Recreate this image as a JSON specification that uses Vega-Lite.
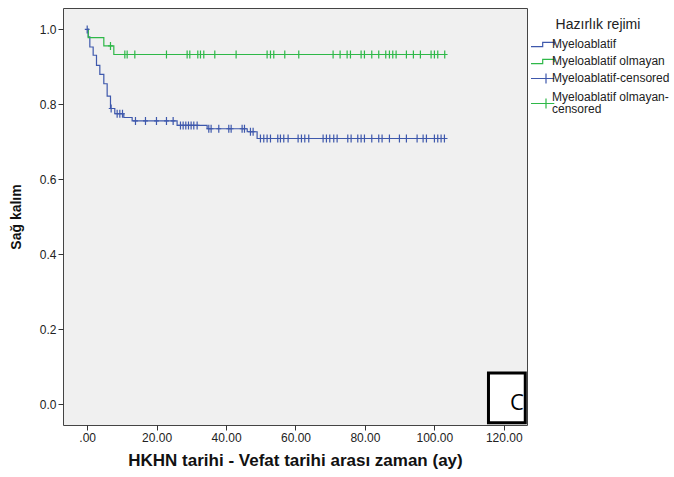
{
  "$schema": "https://vega.github.io/schema/vega-lite/v6.json",
  "width": 464,
  "height": 417,
  "autosize": {"type": "none"},
  "padding": {"left": 63, "top": 8, "right": 147, "bottom": 52},
  "background": "white",
  "config": {
    "view": {"stroke": "#444", "strokeWidth": 1, "fill": "#f0f0f0"},
    "font": "Liberation Sans",
    "style": {"guide-label": {"lineHeight": 12}},
    "axis": {"grid": false, "domain": false, "tickColor": "#333", "tickSize": 5, "labelFont": "Liberation Sans", "labelFontSize": 12, "labelColor": "#222", "labelPadding": 2, "titleFont": "Liberation Sans", "titleFontWeight": "bold", "titleColor": "#111"},
    "legend": {
      "orient": "none", "legendX": 464, "legendY": 10,
      "titleFont": "Liberation Sans", "titleFontSize": 14, "titleFontWeight": "normal", "titleColor": "#222", "titleAnchor": "middle", "titlePadding": 1,
      "labelFont": "Liberation Sans", "labelFontSize": 12, "labelColor": "#222", "labelOffset": 13, "labelLimit": 200, "labelBaseline": "top",
      "symbolSize": 16, "symbolStrokeWidth": 1.2, "rowPadding": -7.8
    }
  },
  "datasets": {
    "steps": [
      {"grup": "Myeloablatif", "t": 0, "s": 1.0},
      {"grup": "Myeloablatif", "t": 0.3, "s": 0.98},
      {"grup": "Myeloablatif", "t": 0.76, "s": 0.953},
      {"grup": "Myeloablatif", "t": 1.72, "s": 0.931},
      {"grup": "Myeloablatif", "t": 2.68, "s": 0.904},
      {"grup": "Myeloablatif", "t": 3.64, "s": 0.88},
      {"grup": "Myeloablatif", "t": 4.79, "s": 0.855},
      {"grup": "Myeloablatif", "t": 5.75, "s": 0.822},
      {"grup": "Myeloablatif", "t": 6.71, "s": 0.789},
      {"grup": "Myeloablatif", "t": 7.95, "s": 0.775},
      {"grup": "Myeloablatif", "t": 10.55, "s": 0.765},
      {"grup": "Myeloablatif", "t": 12.95, "s": 0.756},
      {"grup": "Myeloablatif", "t": 25.9, "s": 0.744},
      {"grup": "Myeloablatif", "t": 34.55, "s": 0.735},
      {"grup": "Myeloablatif", "t": 46.1, "s": 0.727},
      {"grup": "Myeloablatif", "t": 48.95, "s": 0.709},
      {"grup": "Myeloablatif", "t": 103.8, "s": 0.709},
      {"grup": "Myeloablatif olmayan", "t": 0, "s": 1.0},
      {"grup": "Myeloablatif olmayan", "t": 0.3, "s": 0.978},
      {"grup": "Myeloablatif olmayan", "t": 4.79, "s": 0.956},
      {"grup": "Myeloablatif olmayan", "t": 7.67, "s": 0.933},
      {"grup": "Myeloablatif olmayan", "t": 103.8, "s": 0.933}
    ],
    "censored": [
      {"grup": "Myeloablatif-censored", "t": 0, "s": 1.0},
      {"grup": "Myeloablatif-censored", "t": 6.9, "s": 0.789},
      {"grup": "Myeloablatif-censored", "t": 8.63, "s": 0.775},
      {"grup": "Myeloablatif-censored", "t": 9.4, "s": 0.775},
      {"grup": "Myeloablatif-censored", "t": 10.17, "s": 0.775},
      {"grup": "Myeloablatif-censored", "t": 13.91, "s": 0.756},
      {"grup": "Myeloablatif-censored", "t": 16.79, "s": 0.756},
      {"grup": "Myeloablatif-censored", "t": 19.96, "s": 0.756},
      {"grup": "Myeloablatif-censored", "t": 22.84, "s": 0.756},
      {"grup": "Myeloablatif-censored", "t": 24.76, "s": 0.756},
      {"grup": "Myeloablatif-censored", "t": 26.87, "s": 0.744},
      {"grup": "Myeloablatif-censored", "t": 27.64, "s": 0.744},
      {"grup": "Myeloablatif-censored", "t": 28.41, "s": 0.744},
      {"grup": "Myeloablatif-censored", "t": 29.18, "s": 0.744},
      {"grup": "Myeloablatif-censored", "t": 29.94, "s": 0.744},
      {"grup": "Myeloablatif-censored", "t": 30.71, "s": 0.744},
      {"grup": "Myeloablatif-censored", "t": 31.67, "s": 0.744},
      {"grup": "Myeloablatif-censored", "t": 35.03, "s": 0.735},
      {"grup": "Myeloablatif-censored", "t": 35.7, "s": 0.735},
      {"grup": "Myeloablatif-censored", "t": 37.91, "s": 0.735},
      {"grup": "Myeloablatif-censored", "t": 40.79, "s": 0.735},
      {"grup": "Myeloablatif-censored", "t": 41.47, "s": 0.735},
      {"grup": "Myeloablatif-censored", "t": 44.63, "s": 0.735},
      {"grup": "Myeloablatif-censored", "t": 45.31, "s": 0.735},
      {"grup": "Myeloablatif-censored", "t": 47.03, "s": 0.727},
      {"grup": "Myeloablatif-censored", "t": 47.8, "s": 0.727},
      {"grup": "Myeloablatif-censored", "t": 49.91, "s": 0.709},
      {"grup": "Myeloablatif-censored", "t": 50.87, "s": 0.709},
      {"grup": "Myeloablatif-censored", "t": 51.83, "s": 0.709},
      {"grup": "Myeloablatif-censored", "t": 52.8, "s": 0.709},
      {"grup": "Myeloablatif-censored", "t": 54.9, "s": 0.709},
      {"grup": "Myeloablatif-censored", "t": 55.67, "s": 0.709},
      {"grup": "Myeloablatif-censored", "t": 56.63, "s": 0.709},
      {"grup": "Myeloablatif-censored", "t": 57.88, "s": 0.709},
      {"grup": "Myeloablatif-censored", "t": 60.76, "s": 0.709},
      {"grup": "Myeloablatif-censored", "t": 61.72, "s": 0.709},
      {"grup": "Myeloablatif-censored", "t": 62.68, "s": 0.709},
      {"grup": "Myeloablatif-censored", "t": 63.83, "s": 0.709},
      {"grup": "Myeloablatif-censored", "t": 67.96, "s": 0.709},
      {"grup": "Myeloablatif-censored", "t": 68.92, "s": 0.709},
      {"grup": "Myeloablatif-censored", "t": 69.88, "s": 0.709},
      {"grup": "Myeloablatif-censored", "t": 71.03, "s": 0.709},
      {"grup": "Myeloablatif-censored", "t": 72.0, "s": 0.709},
      {"grup": "Myeloablatif-censored", "t": 75.07, "s": 0.709},
      {"grup": "Myeloablatif-censored", "t": 76.03, "s": 0.709},
      {"grup": "Myeloablatif-censored", "t": 77.95, "s": 0.709},
      {"grup": "Myeloablatif-censored", "t": 78.91, "s": 0.709},
      {"grup": "Myeloablatif-censored", "t": 79.87, "s": 0.709},
      {"grup": "Myeloablatif-censored", "t": 81.98, "s": 0.709},
      {"grup": "Myeloablatif-censored", "t": 83.99, "s": 0.709},
      {"grup": "Myeloablatif-censored", "t": 84.95, "s": 0.709},
      {"grup": "Myeloablatif-censored", "t": 87.07, "s": 0.709},
      {"grup": "Myeloablatif-censored", "t": 89.95, "s": 0.709},
      {"grup": "Myeloablatif-censored", "t": 91.96, "s": 0.709},
      {"grup": "Myeloablatif-censored", "t": 95.04, "s": 0.709},
      {"grup": "Myeloablatif-censored", "t": 96.77, "s": 0.709},
      {"grup": "Myeloablatif-censored", "t": 97.73, "s": 0.709},
      {"grup": "Myeloablatif-censored", "t": 100.03, "s": 0.709},
      {"grup": "Myeloablatif-censored", "t": 100.99, "s": 0.709},
      {"grup": "Myeloablatif-censored", "t": 101.95, "s": 0.709},
      {"grup": "Myeloablatif-censored", "t": 102.91, "s": 0.709},
      {"grup": "Myeloablatif olmayan-censored", "t": 6.71, "s": 0.956},
      {"grup": "Myeloablatif olmayan-censored", "t": 10.84, "s": 0.933},
      {"grup": "Myeloablatif olmayan-censored", "t": 11.51, "s": 0.933},
      {"grup": "Myeloablatif olmayan-censored", "t": 13.72, "s": 0.933},
      {"grup": "Myeloablatif olmayan-censored", "t": 22.84, "s": 0.933},
      {"grup": "Myeloablatif olmayan-censored", "t": 28.79, "s": 0.933},
      {"grup": "Myeloablatif olmayan-censored", "t": 29.56, "s": 0.933},
      {"grup": "Myeloablatif olmayan-censored", "t": 31.86, "s": 0.933},
      {"grup": "Myeloablatif olmayan-censored", "t": 32.63, "s": 0.933},
      {"grup": "Myeloablatif olmayan-censored", "t": 33.59, "s": 0.933},
      {"grup": "Myeloablatif olmayan-censored", "t": 36.76, "s": 0.933},
      {"grup": "Myeloablatif olmayan-censored", "t": 42.9, "s": 0.933},
      {"grup": "Myeloablatif olmayan-censored", "t": 51.83, "s": 0.933},
      {"grup": "Myeloablatif olmayan-censored", "t": 52.8, "s": 0.933},
      {"grup": "Myeloablatif olmayan-censored", "t": 53.75, "s": 0.933},
      {"grup": "Myeloablatif olmayan-censored", "t": 56.92, "s": 0.933},
      {"grup": "Myeloablatif olmayan-censored", "t": 60.95, "s": 0.933},
      {"grup": "Myeloablatif olmayan-censored", "t": 70.84, "s": 0.933},
      {"grup": "Myeloablatif olmayan-censored", "t": 72.86, "s": 0.933},
      {"grup": "Myeloablatif olmayan-censored", "t": 74.88, "s": 0.933},
      {"grup": "Myeloablatif olmayan-censored", "t": 75.84, "s": 0.933},
      {"grup": "Myeloablatif olmayan-censored", "t": 78.91, "s": 0.933},
      {"grup": "Myeloablatif olmayan-censored", "t": 79.87, "s": 0.933},
      {"grup": "Myeloablatif olmayan-censored", "t": 81.98, "s": 0.933},
      {"grup": "Myeloablatif olmayan-censored", "t": 83.99, "s": 0.933},
      {"grup": "Myeloablatif olmayan-censored", "t": 86.01, "s": 0.933},
      {"grup": "Myeloablatif olmayan-censored", "t": 87.07, "s": 0.933},
      {"grup": "Myeloablatif olmayan-censored", "t": 88.03, "s": 0.933},
      {"grup": "Myeloablatif olmayan-censored", "t": 88.99, "s": 0.933},
      {"grup": "Myeloablatif olmayan-censored", "t": 91.96, "s": 0.933},
      {"grup": "Myeloablatif olmayan-censored", "t": 93.97, "s": 0.933},
      {"grup": "Myeloablatif olmayan-censored", "t": 95.99, "s": 0.933},
      {"grup": "Myeloablatif olmayan-censored", "t": 99.07, "s": 0.933},
      {"grup": "Myeloablatif olmayan-censored", "t": 100.03, "s": 0.933},
      {"grup": "Myeloablatif olmayan-censored", "t": 100.99, "s": 0.933},
      {"grup": "Myeloablatif olmayan-censored", "t": 103.0, "s": 0.933}
    ],
    "box": [{"t": 115.6, "t2": 126.2, "s": 0.084, "s2": -0.049}],
    "boxlabel": [{"t": 123.8, "s": 0.003, "label": "C"}]
  },
  "encoding": {
    "x": {
      "field": "t", "type": "quantitative",
      "scale": {"domain": [-6.97, 126.7], "nice": false, "zero": false},
      "axis": {"values": [0, 20, 40, 60, 80, 100, 120], "labelExpr": "datum.value == 0 ? '.00' : format(datum.value, '.2f')", "title": "HKHN tarihi - Vefat tarihi arası zaman (ay)", "titleFontSize": 17, "titlePadding": 9}
    },
    "y": {
      "field": "s", "type": "quantitative",
      "scale": {"domain": [-0.055, 1.057], "nice": false, "zero": false},
      "axis": {"values": [0, 0.2, 0.4, 0.6, 0.8, 1.0], "format": ".1f", "title": "Sağ kalım", "titleFontSize": 14, "titlePadding": 16}
    }
  },
  "layer": [
    {
      "data": {"name": "steps"},
      "transform": [{"filter": "datum.grup == 'Myeloablatif'"}],
      "mark": {"type": "line", "interpolate": "step-after", "color": "#3E58AC", "strokeWidth": 1.2}
    },
    {
      "data": {"name": "steps"},
      "transform": [{"filter": "datum.grup == 'Myeloablatif olmayan'"}],
      "mark": {"type": "line", "interpolate": "step-after", "color": "#2EB848", "strokeWidth": 1.2}
    },
    {
      "data": {"name": "censored"},
      "mark": {"type": "point", "shape": "M-0.6,0H0.6M0,-1V1", "size": 64, "filled": false, "strokeWidth": 1.2, "opacity": 1},
      "encoding": {
        "color": {
          "field": "grup", "type": "nominal", "title": "Hazırlık rejimi",
          "scale": {"domain": ["Myeloablatif", "Myeloablatif olmayan", "Myeloablatif-censored", "Myeloablatif olmayan-censored"], "range": ["#3E58AC", "#2EB848", "#3E58AC", "#2EB848"]}
        }
      }
    },
    {
      "data": {"name": "censored"},
      "transform": [{"filter": "datum.t > 1000"}],
      "mark": {"type": "point", "filled": false, "strokeWidth": 1.2, "opacity": 1},
      "encoding": {
        "color": {
          "field": "grup", "type": "nominal", "title": "Hazırlık rejimi",
          "scale": {"domain": ["Myeloablatif", "Myeloablatif olmayan", "Myeloablatif-censored", "Myeloablatif olmayan-censored"], "range": ["#3E58AC", "#2EB848", "#3E58AC", "#2EB848"]},
          "legend": {"labelExpr": "datum.label == 'Myeloablatif olmayan-censored' ? ['Myeloablatif olmayan-', 'censored'] : datum.label"}
        },
        "shape": {
          "field": "grup", "type": "nominal", "title": "Hazırlık rejimi",
          "scale": {"domain": ["Myeloablatif", "Myeloablatif olmayan", "Myeloablatif-censored", "Myeloablatif olmayan-censored"], "range": ["M-1,3.83H4.85V1.68H10.65V3.1", "M-1,3.83H4.85V1.68H10.65V3.1", "M-1,2.75H10.65M6.5,0.25V5.25", "M-1,5.75H10.65M6.5,3.25V8.25"]},
          "legend": {"labelExpr": "datum.label == 'Myeloablatif olmayan-censored' ? ['Myeloablatif olmayan-', 'censored'] : datum.label"}
        }
      }
    },
    {
      "data": {"name": "box"},
      "mark": {"type": "rect", "fill": "white", "stroke": "black", "strokeWidth": 3},
      "encoding": {"x2": {"field": "t2"}, "y2": {"field": "s2"}}
    },
    {
      "data": {"name": "boxlabel"},
      "mark": {"type": "text", "font": "Open Sans", "fontSize": 22, "color": "black", "align": "center", "baseline": "middle"},
      "encoding": {"text": {"field": "label"}}
    }
  ]
}
